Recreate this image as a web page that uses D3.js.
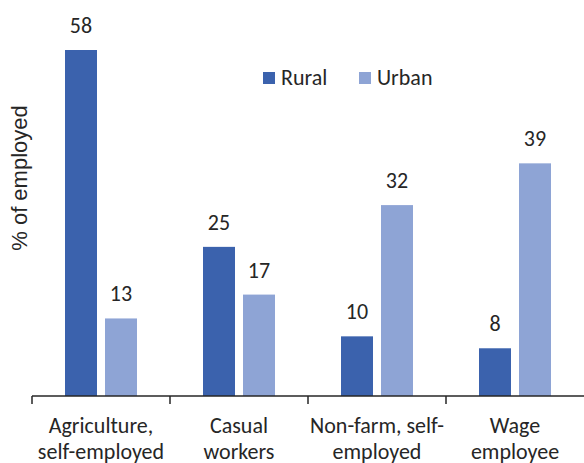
<!DOCTYPE html>
<html>
<head>
<meta charset="utf-8">
<script src="https://cdn.jsdelivr.net/npm/d3@7"></script>
<style>
  body { margin: 0; background: #fff; }
  svg { display: block; }
  .cat { font-family: Carlito, "Open Sans", sans-serif; font-size: 22px; fill: #262626; }
  .val { font-family: Carlito, "Open Sans", sans-serif; font-size: 22px; fill: #262626; }
  .leg { font-family: Carlito, "Open Sans", sans-serif; font-size: 22px; fill: #262626; }
  .ylab { font-family: "Liberation Sans", Arial, sans-serif; font-size: 22px; fill: #262626; }
</style>
</head>
<body>
<div id="chart"></div>
<script>
var categories = [
    ["Agriculture,", "self-employed"],
    ["Casual", "workers"],
    ["Non-farm, self-", "employed"],
    ["Wage", "employee"]
];
var seriesNames = ["Rural", "Urban"];
var rural = [58, 25, 10, 8];
var urban = [13, 17, 32, 39];
var colors = {Rural: "#3B62AD", Urban: "#8EA4D5"};

var width = 584, height = 463;
var svg = d3.select("#chart").append("svg")
    .attr("width", width).attr("height", height);

var x0 = d3.scaleBand()
    .domain(d3.range(categories.length))
    .range([32, 584]);

var x1 = d3.scaleBand()
    .domain(seriesNames)
    .range([0, x0.bandwidth()])
    .paddingInner(0.2)
    .paddingOuter(0.825);

var y = d3.scaleLinear().domain([0, 58]).range([396, 50]);

var rows = categories.map(function (c, i) {
    return {i: i, values: [{k: "Rural", v: rural[i]}, {k: "Urban", v: urban[i]}]};
});

var groups = svg.append("g").selectAll("g")
    .data(rows).enter().append("g")
    .attr("transform", d => "translate(" + x0(d.i) + ",0)");

groups.selectAll("rect")
    .data(d => d.values).enter().append("rect")
    .attr("x", d => x1(d.k))
    .attr("width", x1.bandwidth())
    .attr("y", d => y(d.v))
    .attr("height", d => y(0) - y(d.v))
    .attr("fill", d => colors[d.k]);

groups.selectAll("text.val")
    .data(d => d.values).enter().append("text")
    .attr("class", "val")
    .attr("x", d => x1(d.k) + x1.bandwidth() / 2)
    .attr("y", d => y(d.v) - 17)
    .attr("text-anchor", "middle")
    .text(d => d.v);

// x axis
var axis = svg.append("g").attr("transform", "translate(0," + y(0) + ")");
axis.append("line")
    .attr("x1", 32).attr("x2", 584)
    .attr("stroke", "#262626").attr("stroke-width", 1.5);
axis.selectAll("line.tick")
    .data(d3.range(categories.length)).enter().append("line")
    .attr("class", "tick")
    .attr("x1", d => x0(d)).attr("x2", d => x0(d))
    .attr("y1", 0).attr("y2", 8)
    .attr("stroke", "#262626").attr("stroke-width", 1.5);

var catText = axis.selectAll("text.cat")
    .data(categories).enter().append("text")
    .attr("class", "cat")
    .attr("text-anchor", "middle")
    .attr("x", (d, i) => x0(i) + x0.bandwidth() / 2);
catText.selectAll("tspan")
    .data(d => d).enter().append("tspan")
    .attr("x", function () { return d3.select(this.parentNode).attr("x"); })
    .attr("y", (d, j) => 37 + j * 26)
    .text(d => d);

// y label
svg.append("text")
    .attr("class", "ylab")
    .attr("transform", "translate(27,178) rotate(-90)")
    .attr("text-anchor", "middle")
    .text("% of employed");

// legend
var legendX = [263, 359];
var legend = svg.append("g").selectAll("g")
    .data(seriesNames).enter().append("g")
    .attr("transform", (d, i) => "translate(" + legendX[i] + ",72)");
legend.append("rect")
    .attr("width", 12).attr("height", 12)
    .attr("fill", d => colors[d]);
legend.append("text")
    .attr("class", "leg")
    .attr("x", 18).attr("y", 13)
    .text(d => d);
</script>
</body>
</html>
